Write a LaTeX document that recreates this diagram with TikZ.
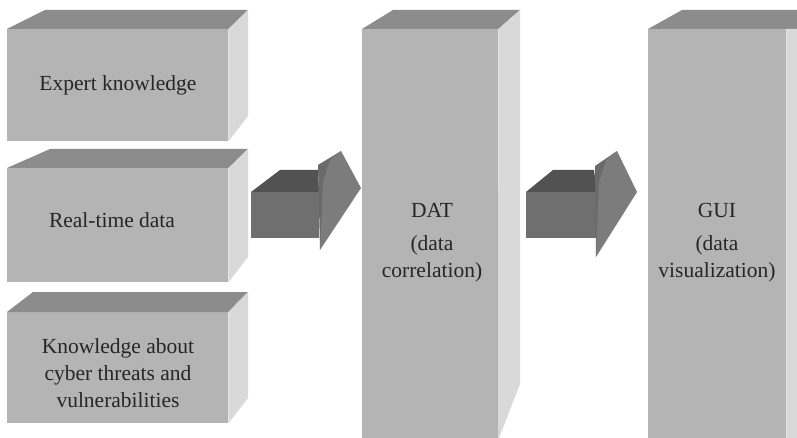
\documentclass[tikz,border=0pt]{standalone}
\usepackage{fontspec}
\setmainfont{Liberation Serif}
\definecolor{frontgray}{HTML}{B4B4B4}
\definecolor{topgray}{HTML}{8C8C8C}
\definecolor{sidegray}{HTML}{D9D9D9}
\definecolor{arrowfront}{HTML}{6F6F6F}
\definecolor{arrowtop}{HTML}{525252}
\definecolor{arrowhead}{HTML}{7C7C7C}
\definecolor{arrowheaddark}{HTML}{6A6A6A}
\definecolor{textgray}{HTML}{262626}
\tikzset{
  front/.style={fill=frontgray, draw=none, inner sep=0pt, anchor=north west},
  topface/.style={fill=topgray},
  sideface/.style={fill=sidegray},
  label/.style={font=\fontsize{21.5}{27}\selectfont, text=textgray, align=center, inner sep=0pt},
}
\begin{document}
\begin{tikzpicture}[x=1pt,y=-1pt]
\useasboundingbox (0,0) rectangle (797,438);
\fill[white] (0,0) rectangle (797,438);

% ---- left column of input blocks ----
\node[front, minimum width=221pt, minimum height=112pt] (expert) at (7,29) {};
\fill[topface] (expert.north west) -- (45,10) -- (248,10) -- (expert.north east) -- cycle;
\fill[sideface] (expert.north east) -- (248,10) -- (248,116) -- (expert.south east) -- cycle;
\node[label] (expertText) at (118,85) {Expert knowledge};

\node[front, minimum width=221pt, minimum height=114pt] (realtime) at (7,168) {};
\fill[topface] (realtime.north west) -- (50,149) -- (248,149) -- (realtime.north east) -- cycle;
\fill[sideface] (realtime.north east) -- (248,149) -- (248,257) -- (realtime.south east) -- cycle;
\node[label] (realtimeText) at (112,220) {Real-time data};

\node[front, minimum width=221pt, minimum height=111pt] (threats) at (7,312) {};
\fill[topface] (threats.north west) -- (33,292) -- (248,292) -- (threats.north east) -- cycle;
\fill[sideface] (threats.north east) -- (248,292) -- (248,398) -- (threats.south east) -- cycle;
\node[label] (threatsText) at (118,373) {Knowledge about\\cyber threats and\\vulnerabilities};

% ---- correlation block ----
\node[front, minimum width=136pt, minimum height=409pt] (dat) at (362,29) {};
\fill[topface] (dat.north west) -- (393,10) -- (520,10) -- (dat.north east) -- cycle;
\fill[sideface] (dat.north east) -- (520,10) -- (520,384) -- (499,438) -- (498,438) -- cycle;
\node[label, anchor=base] (datTitle) at (432,218) {DAT};
\node[label] (datText) at (432,259) {(data\\correlation)};

% ---- visualization block ----
\node[front, minimum width=138pt, minimum height=409pt] (gui) at (648,29) {};
\fill[topface] (gui.north west) -- (682,10) -- (797,10) -- (797,29) -- (gui.north east) -- cycle;
\fill[sideface] (gui.north east) -- (797,29) -- (797,438) -- (gui.south east) -- cycle;
\node[label, anchor=base] (guiTitle) at (717,218) {GUI};
\node[label] (guiText) at (717,259) {(data\\visualization)};

% ---- block arrow: inputs -> DAT ----
\fill[arrowtop] (251,192) -- (280,170) -- (318,170) -- (319,192) -- cycle;
\fill[arrowfront] (251,192) rectangle (319,238);
\fill[arrowheaddark] (318,165) -- (341,151) -- (330,186) -- (320,250) -- cycle;
\fill[arrowhead] (330,160) -- (341,151) -- (361,188) -- (320,250) -- (323,182) -- cycle;

% ---- block arrow: DAT -> GUI ----
\fill[arrowtop] (526,192) -- (553,170) -- (594,170) -- (597,192) -- cycle;
\fill[arrowfront] (526,192) rectangle (597,238);
\fill[arrowheaddark] (595,166) -- (617,151) -- (606,186) -- (596,257) -- cycle;
\fill[arrowhead] (606,160) -- (617,151) -- (637,192) -- (596,257) -- (599,182) -- cycle;
\end{tikzpicture}
\end{document}
